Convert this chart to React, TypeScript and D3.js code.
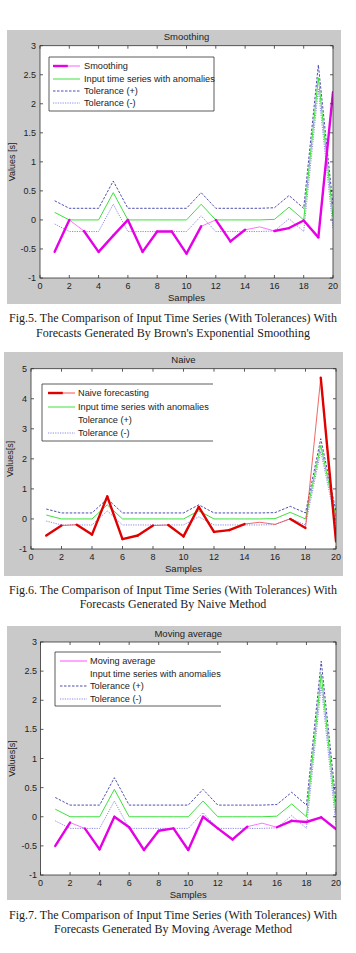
import React from 'react';
import * as d3 from 'd3';

// sample index on the x axis
const samples = [1, 2, 3, 4, 5, 6, 7, 8, 9, 10, 11, 12, 13, 14, 15, 16, 17, 18, 19, 20];
const xTicks = [0, 2, 4, 6, 8, 10, 12, 14, 16, 18, 20];

// input series and its tolerance band (same in all three figures)
const inputSeries = [0.13, 0, 0, 0, 0.47, 0, 0, 0, 0, 0, 0.27, 0, 0, 0, 0, 0.01, 0.22, 0, 2.45, 0.05];
const tolPlus = [0.33, 0.2, 0.2, 0.2, 0.67, 0.2, 0.2, 0.2, 0.2, 0.2, 0.47, 0.2, 0.2, 0.2, 0.2, 0.21, 0.42, 0.2, 2.67, 0.25];
const tolMinus = [-0.07, -0.2, -0.2, -0.2, 0.27, -0.2, -0.2, -0.2, -0.2, -0.2, 0.07, -0.2, -0.2, -0.2, -0.2, -0.19, 0.02, -0.2, 2.25, -0.15];

// forecasts
const smoothing = [-0.55, 0, -0.19, -0.55, -0.27, 0, -0.55, -0.2, -0.2, -0.58, -0.11, 0, -0.37, -0.17, -0.12, -0.19, -0.14, -0.01, -0.3, 2.2];
const naive = [-0.55, -0.22, -0.19, -0.52, 0.75, -0.67, -0.55, -0.22, -0.2, -0.58, 0.4, -0.43, -0.37, -0.17, -0.11, -0.18, 0, -0.3, 4.7, -0.75];
const movingAvg = [-0.5, -0.1, -0.2, -0.56, 0, -0.18, -0.57, -0.24, -0.2, -0.57, 0, -0.2, -0.39, -0.17, -0.11, -0.18, -0.07, -0.09, -0.01, -0.21];

// segments (i -> i+1) drawn bold because they leave the tolerance band
const smoothingBold = [1, 0, 1, 1, 1, 1, 1, 1, 1, 1, 0, 1, 1, 0, 0, 1, 1, 1, 1];
const naiveBold = [1, 0, 1, 1, 1, 1, 1, 0, 1, 1, 1, 1, 1, 0, 0, 0, 1, 0, 1];
const movingAvgBold = [1, 0, 1, 1, 1, 1, 1, 1, 1, 1, 1, 1, 1, 0, 0, 1, 1, 1, 1];

const ticks3 = [-1, -0.5, 0, 0.5, 1, 1.5, 2, 2.5, 3];
const ticks5 = [-1, 0, 1, 2, 3, 4, 5];

const SANS = 'Liberation Sans, Arial, sans-serif';
const SERIF = 'Liberation Serif, Times New Roman, serif';
const GREEN = '#3ee03e';
const TOL_P = '#22229a';
const TOL_M = '#6c6ce0';

type PanelProps = {
  title: string;
  bg: { x: number; y: number; w: number; h: number };
  plot: { l: number; r: number; t: number; b: number };
  yDomain: [number, number];
  yTicks: number[];
  yLabel: string;
  yLabelX: number;
  yTickX: number;
  forecast: number[];
  bold: number[];
  thinColor: string;
  boldColor: string;
  legendBold: boolean;
  legendNames: string[];
  legendLines: boolean[];
  legend: { x: number; y: number; w: number; h: number; rows: number[]; x1: number; x2: number; tx: number; rightBorder: boolean };
  caption: string[];
  captionY: number[];
};

const Panel = (p: PanelProps) => {
  const x = d3.scaleLinear().domain([0, 20]).range([p.plot.l, p.plot.r]);
  const y = d3.scaleLinear().domain(p.yDomain).range([p.plot.b, p.plot.t]);
  const line = d3.line<number>().x((d, i) => x(samples[i])).y(d => y(d));
  const seg = (arr: number[], i: number) =>
    `M${x(samples[i])},${y(arr[i])}L${x(samples[i + 1])},${y(arr[i + 1])}`;
  const clipId = `clip-${p.title.replace(/\s/g, '')}`;
  const lg = p.legend;

  return (
    <g>
      <rect x={p.bg.x} y={p.bg.y} width={p.bg.w} height={p.bg.h} fill="#c9c9c9" />
      <rect x={p.plot.l} y={p.plot.t} width={p.plot.r - p.plot.l} height={p.plot.b - p.plot.t} fill="#fff" />
      <defs>
        <clipPath id={clipId}>
          <rect x={p.plot.l} y={p.plot.t} width={p.plot.r - p.plot.l} height={p.plot.b - p.plot.t} />
        </clipPath>
      </defs>
      <text x={(p.plot.l + p.plot.r) / 2} y={p.plot.t - 9} textAnchor="middle" dominantBaseline="central"
        fontFamily={SANS} fontSize={9.5} fill="#222">{p.title}</text>

      <g clipPath={`url(#${clipId})`}>
        <path d={line(inputSeries) || ''} fill="none" stroke={GREEN} strokeWidth={1} />
        <path d={line(tolPlus) || ''} fill="none" stroke={TOL_P} strokeWidth={0.8} strokeDasharray="2.5,1.5" />
        <path d={line(tolMinus) || ''} fill="none" stroke={TOL_M} strokeWidth={0.8} strokeDasharray="1.2,1.2" />
        <path d={line(p.forecast) || ''} fill="none" stroke={p.thinColor} strokeWidth={0.8} />
        {p.bold.map((b, i) => b ? (
          <path key={i} d={seg(p.forecast, i)} fill="none" stroke={p.boldColor} strokeWidth={2.4} strokeLinecap="round" />
        ) : null)}
      </g>

      {/* axes box + inward ticks */}
      <rect x={p.plot.l} y={p.plot.t} width={p.plot.r - p.plot.l} height={p.plot.b - p.plot.t} fill="none" stroke="#333" strokeWidth={0.8} />
      {xTicks.map(t => (
        <g key={`x${t}`}>
          <line x1={x(t)} x2={x(t)} y1={p.plot.b} y2={p.plot.b - 3} stroke="#333" strokeWidth={0.8} />
          <line x1={x(t)} x2={x(t)} y1={p.plot.t} y2={p.plot.t + 3} stroke="#333" strokeWidth={0.8} />
          <text x={x(t)} y={p.plot.b + 8} textAnchor="middle" dominantBaseline="central" fontFamily={SANS} fontSize={9} fill="#222">{t}</text>
        </g>
      ))}
      {p.yTicks.map(t => (
        <g key={`y${t}`}>
          <line x1={p.plot.l} x2={p.plot.l + 3} y1={y(t)} y2={y(t)} stroke="#333" strokeWidth={0.8} />
          <line x1={p.plot.r} x2={p.plot.r - 3} y1={y(t)} y2={y(t)} stroke="#333" strokeWidth={0.8} />
          <text x={p.yTickX} y={y(t)} textAnchor="end" dominantBaseline="central" fontFamily={SANS} fontSize={9} fill="#222">{String(t)}</text>
        </g>
      ))}
      <text x={(p.plot.l + p.plot.r) / 2} y={p.plot.b + 19} textAnchor="middle" dominantBaseline="central"
        fontFamily={SANS} fontSize={9.5} fill="#222">Samples</text>
      <text transform={`translate(${p.yLabelX},${(p.plot.t + p.plot.b) / 2}) rotate(-90)`} textAnchor="middle"
        dominantBaseline="central" fontFamily={SANS} fontSize={9} fill="#222">{p.yLabel}</text>

      {/* legend */}
      <rect x={lg.x} y={lg.y} width={lg.w} height={lg.h} fill="#fff" stroke="none" />
      <path d={lg.rightBorder
        ? `M${lg.x},${lg.y}H${lg.x + lg.w}V${lg.y + lg.h}H${lg.x}Z`
        : `M${lg.x + lg.w},${lg.y}H${lg.x}V${lg.y + lg.h}H${lg.x + lg.w}`}
        fill="none" stroke="#333" strokeWidth={0.8} />
      {p.legendNames.map((name, i) => {
        const ly = lg.rows[i];
        const mid = lg.x1 + (lg.x2 - lg.x1) * 0.55;
        let mark = null;
        if (p.legendLines[i]) {
          if (i === 0) {
            mark = p.legendBold ? (
              <g>
                <line x1={lg.x1} x2={mid} y1={ly} y2={ly} stroke={p.boldColor} strokeWidth={2.4} />
                <line x1={mid} x2={lg.x2} y1={ly} y2={ly} stroke={p.thinColor} strokeWidth={0.9} />
              </g>
            ) : <line x1={lg.x1} x2={lg.x2} y1={ly} y2={ly} stroke={p.thinColor} strokeWidth={1} />;
          } else if (i === 1) {
            mark = <line x1={lg.x1} x2={lg.x2} y1={ly} y2={ly} stroke={GREEN} strokeWidth={1} />;
          } else if (i === 2) {
            mark = <line x1={lg.x1} x2={lg.x2} y1={ly} y2={ly} stroke={TOL_P} strokeWidth={0.8} strokeDasharray="2.5,1.5" />;
          } else {
            mark = <line x1={lg.x1} x2={lg.x2} y1={ly} y2={ly} stroke={TOL_M} strokeWidth={0.8} strokeDasharray="1.2,1.2" />;
          }
        }
        return (
          <g key={name}>
            {mark}
            <text x={lg.tx} y={ly} dominantBaseline="central" fontFamily={SANS} fontSize={9.2} fill="#222">{name}</text>
          </g>
        );
      })}

      {p.caption.map((c, i) => (
        <text key={i} x={173} y={p.captionY[i]} textAnchor="middle" dominantBaseline="central"
          fontFamily={SERIF} fontSize={12} fill="#1a1a1a">{c}</text>
      ))}
    </g>
  );
};

const App = () => (
  <svg width={356} height={953} style={{ position: 'absolute', left: 0, top: 0, background: '#fff' }}>
    <Panel
      title="Smoothing"
      bg={{ x: 7, y: 30, w: 334, h: 274 }}
      plot={{ l: 40, r: 333, t: 45.7, b: 278 }}
      yDomain={[-1, 3]}
      yTicks={ticks3}
      yLabel="Values [s]"
      yLabelX={12}
      yTickX={36}
      forecast={smoothing}
      bold={smoothingBold}
      thinColor="#ff50ff"
      boldColor="#e600e6"
      legendBold={true}
      legendNames={['Smoothing', 'Input time series with anomalies', 'Tolerance (+)', 'Tolerance (-)']}
      legendLines={[true, true, true, true]}
      legend={{ x: 49, y: 57, w: 165, h: 54, rows: [66, 79, 91, 103], x1: 53, x2: 80, tx: 84, rightBorder: true }}
      caption={['Fig.5. The Comparison of Input Time Series (With Tolerances) With', "Forecasts Generated By Brown's Exponential Smoothing"]}
      captionY={[318, 333]}
    />
    <Panel
      title="Naive"
      bg={{ x: 4, y: 352, w: 339, h: 224 }}
      plot={{ l: 31, r: 336, t: 368.7, b: 549 }}
      yDomain={[-1, 5]}
      yTicks={ticks5}
      yLabel="Values[s]"
      yLabelX={10}
      yTickX={27}
      forecast={naive}
      bold={naiveBold}
      thinColor="#ee4040"
      boldColor="#e00000"
      legendBold={true}
      legendNames={['Naive forecasting', 'Input time series with anomalies', 'Tolerance (+)', 'Tolerance (-)']}
      legendLines={[true, true, false, true]}
      legend={{ x: 42, y: 384, w: 171, h: 57, rows: [393, 407, 420, 433], x1: 48, x2: 75, tx: 78, rightBorder: false }}
      caption={['Fig.6. The Comparison of Input Time Series (With Tolerances) With', 'Forecasts Generated By Naive Method']}
      captionY={[590, 604]}
    />
    <Panel
      title="Moving average"
      bg={{ x: 7, y: 626, w: 334, h: 274 }}
      plot={{ l: 40.5, r: 336, t: 642, b: 875 }}
      yDomain={[-1, 3]}
      yTicks={ticks3}
      yLabel="Values[s]"
      yLabelX={12}
      yTickX={37}
      forecast={movingAvg}
      bold={movingAvgBold}
      thinColor="#ff50ff"
      boldColor="#e600e6"
      legendBold={false}
      legendNames={['Moving average', 'Input time series with anomalies', 'Tolerance (+)', 'Tolerance (-)']}
      legendLines={[true, false, true, true]}
      legend={{ x: 55, y: 652, w: 166, h: 54, rows: [661, 674, 686, 699], x1: 60, x2: 87, tx: 90, rightBorder: false }}
      caption={['Fig.7. The Comparison of Input Time Series (With Tolerances) With', 'Forecasts Generated By Moving Average Method']}
      captionY={[915, 929]}
    />
  </svg>
);

export default App;
